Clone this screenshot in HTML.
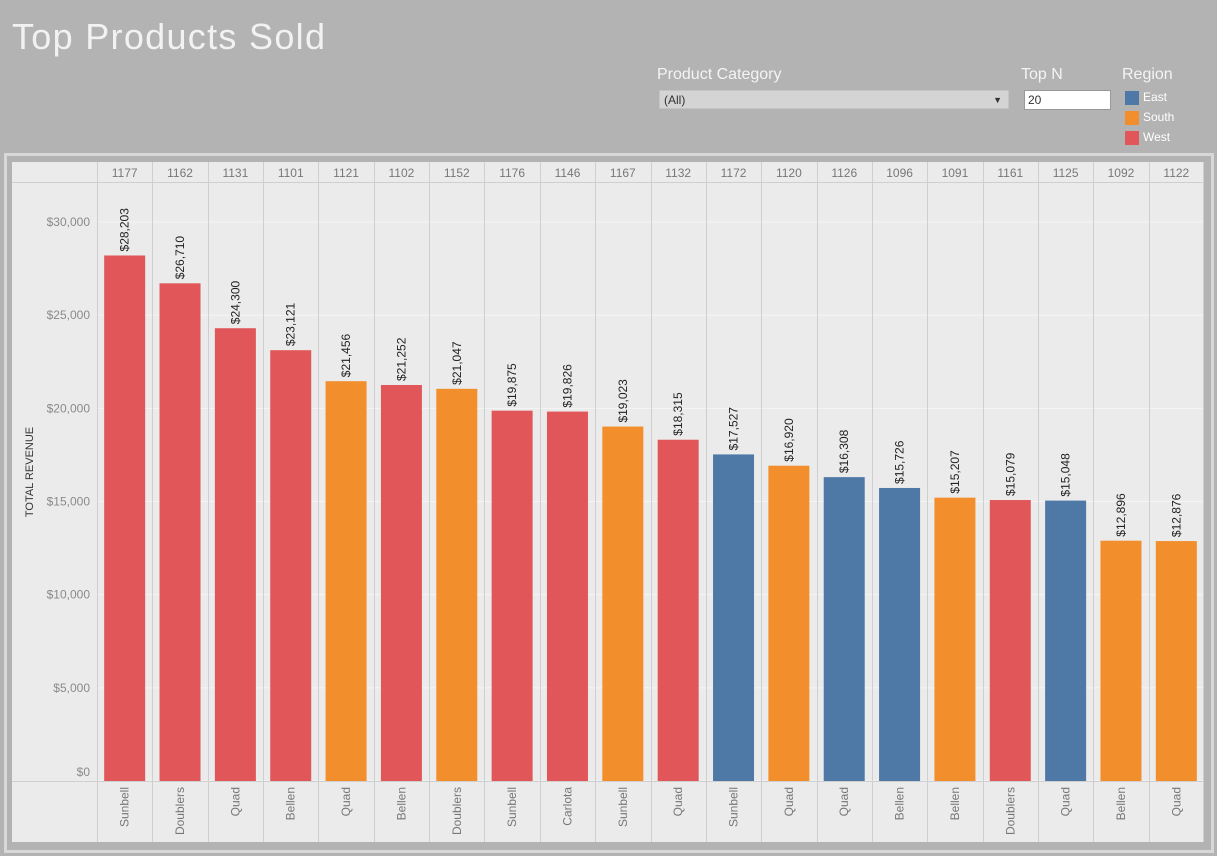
<!DOCTYPE html>
<html><head><meta charset="utf-8">
<style>
body{margin:0;width:1217px;height:856px;background:#b3b3b3;font-family:"Liberation Sans",sans-serif;overflow:hidden;position:relative}
.t{position:absolute;color:#f4f4f4}
</style></head><body>
<div class="t" style="left:12px;top:16px;font-size:36px;letter-spacing:1.3px;color:#f2f2f2">Top Products Sold</div>
<div class="t" style="left:657px;top:66px;font-size:16px">Product Category</div>
<div style="position:absolute;left:659px;top:90px;width:350px;height:19px;background:#d4d4d4;border:1px solid #c4c4c4;font-size:12px;color:#333;line-height:19px;box-sizing:border-box;padding-left:4px">(All)<span style="position:absolute;right:6px;top:0;font-size:9px">▼</span></div>
<div class="t" style="left:1021px;top:66px;font-size:16px">Top N</div>
<div style="position:absolute;left:1024px;top:90px;width:87px;height:20px;background:#fff;border:1px solid #999;box-sizing:border-box;font-size:12px;line-height:18px;padding-left:3px;color:#333">20</div>
<div class="t" style="left:1122px;top:66px;font-size:16px">Region</div>
<div style="position:absolute;left:1125px;top:90px;font-size:12px;color:#fff"><span style="display:inline-block;width:14px;height:14px;background:#4e79a7;vertical-align:middle;margin-right:4px"></span>East</div>
<div style="position:absolute;left:1125px;top:110px;font-size:12px;color:#fff"><span style="display:inline-block;width:14px;height:14px;background:#f28e2b;vertical-align:middle;margin-right:4px"></span>South</div>
<div style="position:absolute;left:1125px;top:130px;font-size:12px;color:#fff"><span style="display:inline-block;width:14px;height:14px;background:#e15759;vertical-align:middle;margin-right:4px"></span>West</div>
<svg id="c" width="1217" height="856" style="position:absolute;left:0;top:0"></svg>
<script>
const ids=["1177","1162","1131","1101","1121","1102","1152","1176","1146","1167","1132","1172","1120","1126","1096","1091","1161","1125","1092","1122"];
const names=["Sunbell","Doublers","Quad","Bellen","Quad","Bellen","Doublers","Sunbell","Carlota","Sunbell","Quad","Sunbell","Quad","Quad","Bellen","Bellen","Doublers","Quad","Bellen","Quad"];
const revenue=[28203,26710,24300,23121,21456,21252,21047,19875,19826,19023,18315,17527,16920,16308,15726,15207,15079,15048,12896,12876];
const regions=["West","West","West","West","South","West","South","West","West","South","West","East","South","East","East","South","West","East","South","South"];
const yTicks=[0,5000,10000,15000,20000,25000,30000];
const colors={East:"#4e79a7",South:"#f28e2b",West:"#e15759"};
const svg=document.getElementById('c'),NS="http://www.w3.org/2000/svg";
function mk(t,a,p){const e=document.createElementNS(NS,t);for(const k in a)e.setAttribute(k,a[k]);(p||svg).appendChild(e);return e;}
const X0=97,X1=1204,cw=(X1-X0)/ids.length,Y0=781,ys=559/30000;
const y=v=>Y0-v*ys;
mk('rect',{x:5.5,y:154.5,width:1207,height:697,fill:'none',stroke:'#d8d8d8','stroke-width':3});
mk('rect',{x:12,y:162,width:1192,height:680,fill:'#ebebeb'});
yTicks.forEach(v=>{
  const g=mk('line',{x1:X0,x2:X1,y1:y(v),y2:y(v),stroke:'#f5f5f5','stroke-width':1});
  
  const t=mk('text',{x:90,y:v===0?y(v)-5:y(v)+4,'text-anchor':'end','font-size':12,fill:'#8a8a8a'});
  
  t.textContent='$'+v.toLocaleString('en-US');
});
mk('line',{x1:12,x2:X1,y1:182.5,y2:182.5,stroke:'#cfcfcf'});
mk('line',{x1:12,x2:X1,y1:781.5,y2:781.5,stroke:'#cfcfcf'});
const yt=mk('text',{transform:'translate(33,472) rotate(-90)','text-anchor':'middle','font-size':11,fill:'#333'});
yt.textContent='TOTAL REVENUE';
ids.forEach((id,i)=>{
  const x=X0+i*cw;
  mk('line',{x1:Math.round(x)+.5,x2:Math.round(x)+.5,y1:162,y2:842,stroke:'#cfcfcf'});
  const cx=x+cw/2;
  const h=mk('text',{x:cx,y:177,'text-anchor':'middle','font-size':12,fill:'#777'});
  h.textContent=id;
  const b=mk('rect',{x:cx-20.5,y:y(revenue[i]),width:41,height:revenue[i]*ys,fill:colors[regions[i]]});
  
  const l=mk('text',{transform:`translate(${cx+4},${y(revenue[i])-4}) rotate(-90)`,'font-size':12,fill:'#222'});
  
  l.textContent='$'+revenue[i].toLocaleString('en-US');
  const n=mk('text',{transform:`translate(${cx+4},787) rotate(-90)`,'text-anchor':'end','font-size':12,fill:'#777'});
  n.textContent=names[i];
});
mk('line',{x1:X1-.5,x2:X1-.5,y1:162,y2:842,stroke:'#cfcfcf'});
</script>
</body></html>
